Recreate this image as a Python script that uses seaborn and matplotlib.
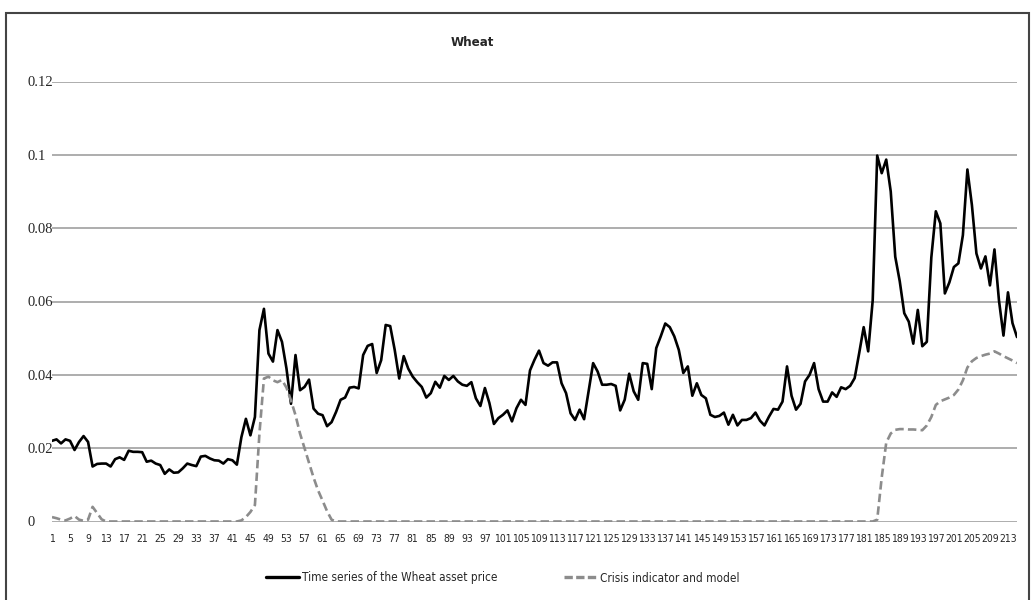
import pandas as pd
import matplotlib
matplotlib.use("Agg")
import matplotlib.pyplot as plt
import seaborn as sns
from matplotlib import font_manager
from matplotlib.lines import Line2D
from matplotlib.patches import Rectangle

# Observation index (category axis of the original chart)
periods = list(range(1, 216))
tick_labels = list(range(1, 214, 4))

# Time series of the Wheat asset price
wheat_price = [
    0.0220, 0.0224, 0.0213, 0.0224, 0.0220, 0.0195, 0.0217, 0.0233, 0.0217, 0.0150,
    0.0157, 0.0158, 0.0158, 0.0150, 0.0170, 0.0175, 0.0168, 0.0193, 0.0190, 0.0190,
    0.0189, 0.0163, 0.0166, 0.0158, 0.0154, 0.0130, 0.0142, 0.0133, 0.0134, 0.0145,
    0.0158, 0.0154, 0.0151, 0.0177, 0.0179, 0.0172, 0.0167, 0.0166, 0.0158, 0.0170,
    0.0167, 0.0155, 0.0230, 0.0280, 0.0235, 0.0285, 0.0522, 0.0580, 0.0458, 0.0436,
    0.0522, 0.0490, 0.0417, 0.0321, 0.0454, 0.0358, 0.0367, 0.0387, 0.0308, 0.0294,
    0.0290, 0.0260, 0.0271, 0.0299, 0.0332, 0.0338, 0.0365, 0.0367, 0.0363, 0.0454,
    0.0479, 0.0484, 0.0405, 0.0440, 0.0536, 0.0533, 0.0468, 0.0390, 0.0451, 0.0417,
    0.0395, 0.0380, 0.0367, 0.0338, 0.0350, 0.0381, 0.0365, 0.0397, 0.0386, 0.0397,
    0.0382, 0.0373, 0.0370, 0.0380, 0.0336, 0.0315, 0.0364, 0.0323, 0.0266, 0.0282,
    0.0291, 0.0303, 0.0273, 0.0309, 0.0332, 0.0318, 0.0412, 0.0441, 0.0466, 0.0432,
    0.0425, 0.0434, 0.0434, 0.0377, 0.0350, 0.0295, 0.0277, 0.0305, 0.0279, 0.0355,
    0.0432, 0.0409, 0.0373, 0.0373, 0.0375, 0.0370, 0.0303, 0.0332, 0.0403, 0.0355,
    0.0332, 0.0432, 0.0430, 0.0361, 0.0473, 0.0505, 0.0540, 0.0530, 0.0505, 0.0468,
    0.0405, 0.0423, 0.0343, 0.0377, 0.0345, 0.0336, 0.0291, 0.0285, 0.0288, 0.0297,
    0.0264, 0.0291, 0.0262, 0.0277, 0.0277, 0.0282, 0.0297, 0.0275, 0.0262, 0.0286,
    0.0307, 0.0305, 0.0327, 0.0423, 0.0343, 0.0305, 0.0321, 0.0382, 0.0400, 0.0432,
    0.0361, 0.0327, 0.0327, 0.0352, 0.0340, 0.0366, 0.0361, 0.0370, 0.0391, 0.0459,
    0.0530, 0.0464, 0.0603, 0.0998, 0.0950, 0.0987, 0.0900, 0.0722, 0.0655, 0.0568,
    0.0545, 0.0485, 0.0577, 0.0478, 0.0490, 0.0720, 0.0846, 0.0813, 0.0622, 0.0652,
    0.0694, 0.0704, 0.0781, 0.0960, 0.0863, 0.0731, 0.0690, 0.0723, 0.0644, 0.0742,
    0.0603, 0.0507, 0.0625, 0.0541, 0.0503,
]

# Crisis indicator and model
crisis_indicator = [
    0.0012, 0.0009, 0.0005, 0.0003, 0.0008, 0.0015, 0.0005, 0.0002, 0.0005, 0.0040,
    0.0023, 0.0006, 0.0, 0.0, 0.0, 0.0, 0.0, 0.0, 0.0, 0.0,
    0.0, 0.0, 0.0, 0.0, 0.0, 0.0, 0.0, 0.0, 0.0, 0.0,
    0.0, 0.0, 0.0, 0.0, 0.0, 0.0, 0.0, 0.0, 0.0, 0.0,
    0.0, 0.0, 0.0003, 0.0012, 0.0026, 0.0045, 0.0240, 0.0390, 0.0395, 0.0385,
    0.0380, 0.0386, 0.0365, 0.0330, 0.0290, 0.0240, 0.0200, 0.0160, 0.0120, 0.0085,
    0.0057, 0.0028, 0.0005, 0.0, 0.0, 0.0, 0.0, 0.0, 0.0, 0.0,
    0.0, 0.0, 0.0, 0.0, 0.0, 0.0, 0.0, 0.0, 0.0, 0.0,
    0.0, 0.0, 0.0, 0.0, 0.0, 0.0, 0.0, 0.0, 0.0, 0.0,
    0.0, 0.0, 0.0, 0.0, 0.0, 0.0, 0.0, 0.0, 0.0, 0.0,
    0.0, 0.0, 0.0, 0.0, 0.0, 0.0, 0.0, 0.0, 0.0, 0.0,
    0.0, 0.0, 0.0, 0.0, 0.0, 0.0, 0.0, 0.0, 0.0, 0.0,
    0.0, 0.0, 0.0, 0.0, 0.0, 0.0, 0.0, 0.0, 0.0, 0.0,
    0.0, 0.0, 0.0, 0.0, 0.0, 0.0, 0.0, 0.0, 0.0, 0.0,
    0.0, 0.0, 0.0, 0.0, 0.0, 0.0, 0.0, 0.0, 0.0, 0.0,
    0.0, 0.0, 0.0, 0.0, 0.0, 0.0, 0.0, 0.0, 0.0, 0.0,
    0.0, 0.0, 0.0, 0.0, 0.0, 0.0, 0.0, 0.0, 0.0, 0.0,
    0.0, 0.0, 0.0, 0.0, 0.0, 0.0, 0.0, 0.0, 0.0, 0.0,
    0.0, 0.0, 0.0, 0.0005, 0.0120, 0.0215, 0.0240, 0.0250, 0.0252, 0.0252,
    0.0251, 0.0251, 0.0250, 0.0249, 0.0262, 0.0285, 0.0318, 0.0328, 0.0333, 0.0338,
    0.0345, 0.0360, 0.0385, 0.0420, 0.0437, 0.0446, 0.0451, 0.0455, 0.0458, 0.0464,
    0.0458, 0.0451, 0.0445, 0.0439, 0.0432,
]

y_ticks = [0, 0.02, 0.04, 0.06, 0.08, 0.1, 0.12]
y_tick_labels = ["0", "0.02", "0.04", "0.06", "0.08", "0.1", "0.12"]

df = pd.DataFrame({"period": periods, "price": wheat_price, "crisis": crisis_indicator})

sns.set_style("white")
plt.rcParams["font.family"] = ["Liberation Sans", "DejaVu Sans"]

# look for a condensed sans face (the original uses a narrow font for the labels)
narrow = None
for f in font_manager.fontManager.ttflist:
    if f.style != "normal" or f.weight not in (400, "normal", "regular"):
        continue
    if "Narrow" in f.name or "Condensed" in f.name or f.stretch in ("condensed", "semi-condensed"):
        if "Serif" in f.name or "Mono" in f.name:
            continue
        narrow = f
        break

if narrow is not None:
    label_font = dict(family=narrow.name, stretch=narrow.stretch)
else:
    label_font = dict(family="Liberation Sans")
xtick_size, legend_size = 7.5, 8.5

W, H = 1031, 600
fig = plt.figure(figsize=(W / 100, H / 100), dpi=100)
ax = fig.add_axes([52 / W, 1 - 521.5 / H, (1017 - 52) / W, (521.5 - 81.5) / H])

dash_style = (0, (3.2, 1.6))
sns.lineplot(data=df, x="period", y="price", ax=ax, color="black", linewidth=1.9, legend=False)
sns.lineplot(data=df, x="period", y="crisis", ax=ax, color="#8c8c8c", linewidth=1.9,
             linestyle=dash_style, legend=False)

ax.set_xlim(1, 215)
ax.set_ylim(0, 0.12)
for s in ax.spines.values():
    s.set_visible(False)

ax.set_yticks(y_ticks)
ax.set_yticklabels(y_tick_labels, family=["Liberation Serif", "DejaVu Serif"], fontsize=10.5,
                   ha="left")
ax.tick_params(axis="y", length=0, pad=18)
ax.set_xticks(tick_labels)
ax.set_xticklabels([str(t) for t in tick_labels], fontsize=xtick_size, **label_font)
ax.tick_params(axis="x", length=0, pad=9)
ax.grid(axis="y", color="#a0a0a0", linewidth=1.2)
ax.grid(axis="x", visible=False)
ax.set_axisbelow(True)
ax.set_xlabel("")
ax.set_ylabel("")

fig.text(472 / W, 1 - 43 / H, "Wheat", ha="center", va="center", fontsize=9.5,
         fontweight="bold", **label_font)

handles = [
    Line2D([], [], color="black", linewidth=2.4),
    Line2D([], [], color="#8c8c8c", linewidth=2.4, linestyle=(0, (2.5, 1.0))),
]
fig.legend(handles, ["Time series of the Wheat asset price", "Crisis indicator and model"],
           loc="center", bbox_to_anchor=(503 / W, 1 - 578 / H), ncol=2, frameon=False,
           prop=dict(size=legend_size, **label_font), handlelength=2.8,
           handletextpad=0.25, columnspacing=5.6)

# outer chart frame
fig.patches.append(Rectangle((6 / W, -0.05), (1029 - 6) / W, 1.05 - 13 / H,
                             transform=fig.transFigure, fill=False,
                             edgecolor="#444444", linewidth=1.5))

fig.savefig("out.png", dpi=100)
